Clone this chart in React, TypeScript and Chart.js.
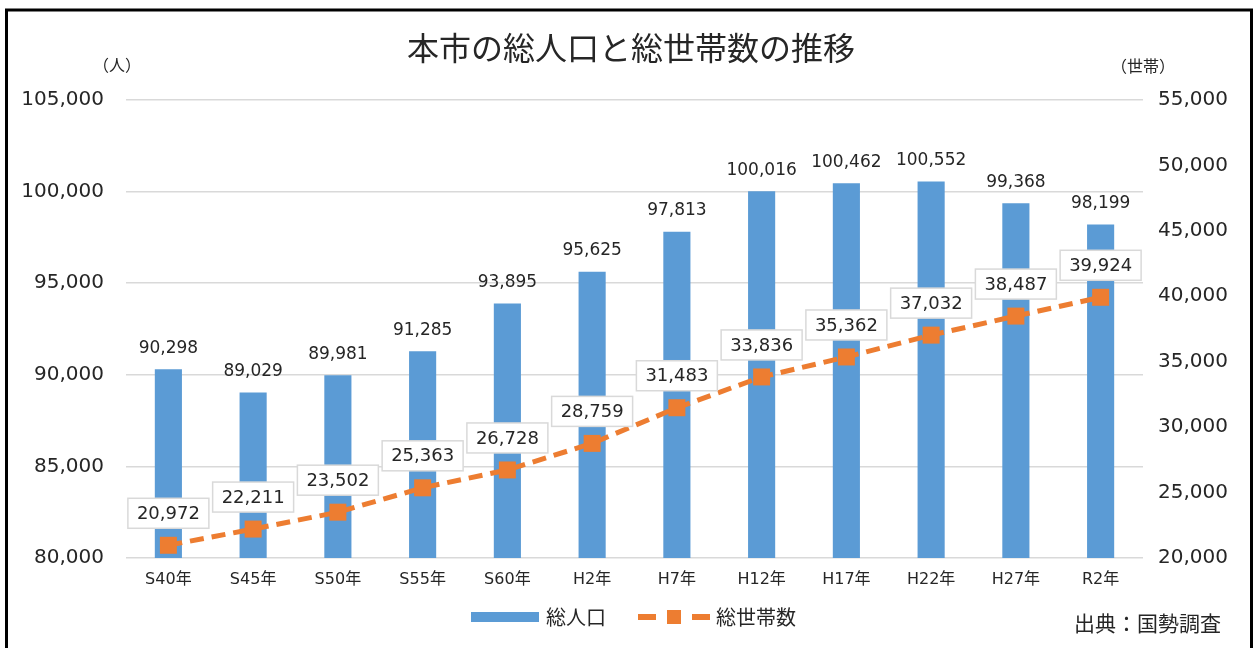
import React, { useEffect, useRef } from "react";
import { Chart, registerables } from "chart.js";

Chart.register(...registerables);

const categories = ["S40年", "S45年", "S50年", "S55年", "S60年", "H2年", "H7年", "H12年", "H17年", "H22年", "H27年", "R2年"];
const population = [90298, 89029, 89981, 91285, 93895, 95625, 97813, 100016, 100462, 100552, 99368, 98199];
const households = [20972, 22211, 23502, 25363, 26728, 28759, 31483, 33836, 35362, 37032, 38487, 39924];
const populationAxis = { min: 80000, max: 105000, step: 5000 };
const householdAxis = { min: 20000, max: 55000, step: 5000 };
const titleText = "本市の総人口と総世帯数の推移";
const leftUnit = "（人）";
const rightUnit = "（世帯）";
const seriesNames = ["総人口", "総世帯数"];
const sourceText = "出典：国勢調査";

const BLUE = "#5B9BD5";
const ORANGE = "#ED7D31";
const TEXT = "#262626";
const GRID = "#d9d9d9";
const NUM = "'DejaVu Sans', 'Noto Sans CJK JP', sans-serif";
const JP = "'Noto Sans CJK JP', sans-serif";

const fmt = (v: number) => v.toLocaleString("en-US");

const labelsPlugin = {
  id: "customLabels",
  afterDatasetsDraw(chart: any) {
    const ctx = chart.ctx;
    ctx.save();
    // bar value labels
    const barMeta = chart.getDatasetMeta(0);
    ctx.font = `17px ${NUM}`;
    ctx.fillStyle = TEXT;
    ctx.textAlign = "center";
    ctx.textBaseline = "middle";
    barMeta.data.forEach((el: any, i: number) => {
      ctx.fillText(fmt(population[i]), el.x, el.y - 21);
    });
    // line value labels in boxes
    const lineMeta = chart.getDatasetMeta(1);
    ctx.font = `18px ${NUM}`;
    lineMeta.data.forEach((el: any, i: number) => {
      const t = fmt(households[i]);
      const w = ctx.measureText(t).width + 18;
      const h = 30;
      const cx = el.x;
      const cy = el.y - 32;
      ctx.fillStyle = "#ffffff";
      ctx.fillRect(cx - w / 2, cy - h / 2, w, h);
      ctx.strokeStyle = GRID;
      ctx.lineWidth = 1.5;
      ctx.strokeRect(cx - w / 2, cy - h / 2, w, h);
      ctx.fillStyle = TEXT;
      ctx.fillText(t, cx, cy + 1);
    });
    ctx.restore();
  },
  afterDraw(chart: any) {
    const ctx = chart.ctx;
    ctx.save();
    ctx.fillStyle = TEXT;
    ctx.textBaseline = "middle";
    // title
    ctx.textAlign = "center";
    ctx.font = `32px ${JP}`;
    ctx.fillText(titleText, 631, 48);
    // units
    ctx.font = `16px ${JP}`;
    ctx.fillText(leftUnit, 117, 65);
    ctx.fillText(rightUnit, 1143, 66);
    // legend
    ctx.fillStyle = BLUE;
    ctx.fillRect(471, 612, 68, 10);
    ctx.fillStyle = TEXT;
    ctx.textAlign = "left";
    ctx.font = `20px ${JP}`;
    ctx.fillText(seriesNames[0], 546, 617);
    ctx.strokeStyle = ORANGE;
    ctx.lineWidth = 6;
    ctx.beginPath();
    ctx.moveTo(638, 617);
    ctx.lineTo(656, 617);
    ctx.moveTo(692, 617);
    ctx.lineTo(710, 617);
    ctx.stroke();
    ctx.fillStyle = ORANGE;
    ctx.fillRect(667, 610, 14, 14);
    ctx.fillStyle = TEXT;
    ctx.fillText(seriesNames[1], 716, 617);
    // source
    ctx.font = `21px ${JP}`;
    ctx.fillText(sourceText, 1074, 623);
    // frame
    ctx.strokeStyle = "#000000";
    ctx.lineWidth = 3;
    ctx.strokeRect(6.5, 10, 1245, 700);
    ctx.restore();
  },
};

export default function App() {
  const ref = useRef<HTMLCanvasElement | null>(null);
  useEffect(() => {
    document.body.style.margin = "0";
    if (!ref.current) return;
    const chart = new Chart(ref.current, {
      type: "bar",
      data: {
        labels: categories,
        datasets: [
          {
            type: "bar",
            label: seriesNames[0],
            data: population,
            backgroundColor: BLUE,
            yAxisID: "y",
            order: 1,
            barPercentage: 0.32,
            categoryPercentage: 1,
          },
          {
            type: "line",
            label: seriesNames[1],
            data: households,
            borderColor: ORANGE,
            backgroundColor: ORANGE,
            borderWidth: 5,
            borderDash: [14, 8],
            pointStyle: "rect",
            pointRadius: 12,
            pointBackgroundColor: ORANGE,
            pointBorderColor: ORANGE,
            pointBorderWidth: 0,
            tension: 0,
            yAxisID: "y1",
            order: 0,
          },
        ],
      },
      options: {
        responsive: false,
        animation: false,
        devicePixelRatio: 1,
        layout: { padding: { top: 100, left: 0, right: 0, bottom: 0 } },
        plugins: {
          legend: { display: false },
          title: { display: false },
          tooltip: { enabled: false },
        },
        scales: {
          x: {
            grid: { display: false, drawTicks: false },
            border: { display: false },
            ticks: { color: TEXT, font: { family: NUM, size: 16 }, padding: 12 },
            afterFit: (s: any) => {
              s.height = 90;
            },
          },
          y: {
            position: "left",
            min: populationAxis.min,
            max: populationAxis.max,
            grid: { color: GRID, lineWidth: 1.5, drawTicks: false },
            border: { display: false },
            ticks: {
              stepSize: populationAxis.step,
              color: TEXT,
              font: { family: NUM, size: 20 },
              padding: 22,
              callback: (v: any) => fmt(Number(v)),
            },
            afterFit: (s: any) => {
              s.width = 126;
            },
          },
          y1: {
            position: "right",
            min: householdAxis.min,
            max: householdAxis.max,
            grid: { display: false, drawTicks: false },
            border: { display: false },
            ticks: {
              stepSize: householdAxis.step,
              color: TEXT,
              font: { family: NUM, size: 20 },
              padding: 15,
              callback: (v: any) => fmt(Number(v)),
            },
            afterFit: (s: any) => {
              s.width = 112;
            },
          },
        },
      },
      plugins: [labelsPlugin],
    } as any);
    return () => chart.destroy();
  }, []);
  return (
    <div style={{ position: "fixed", left: 0, top: 0, width: 1255, height: 648, background: "#fff" }}>
      <canvas ref={ref} width={1255} height={648} />
    </div>
  );
}
